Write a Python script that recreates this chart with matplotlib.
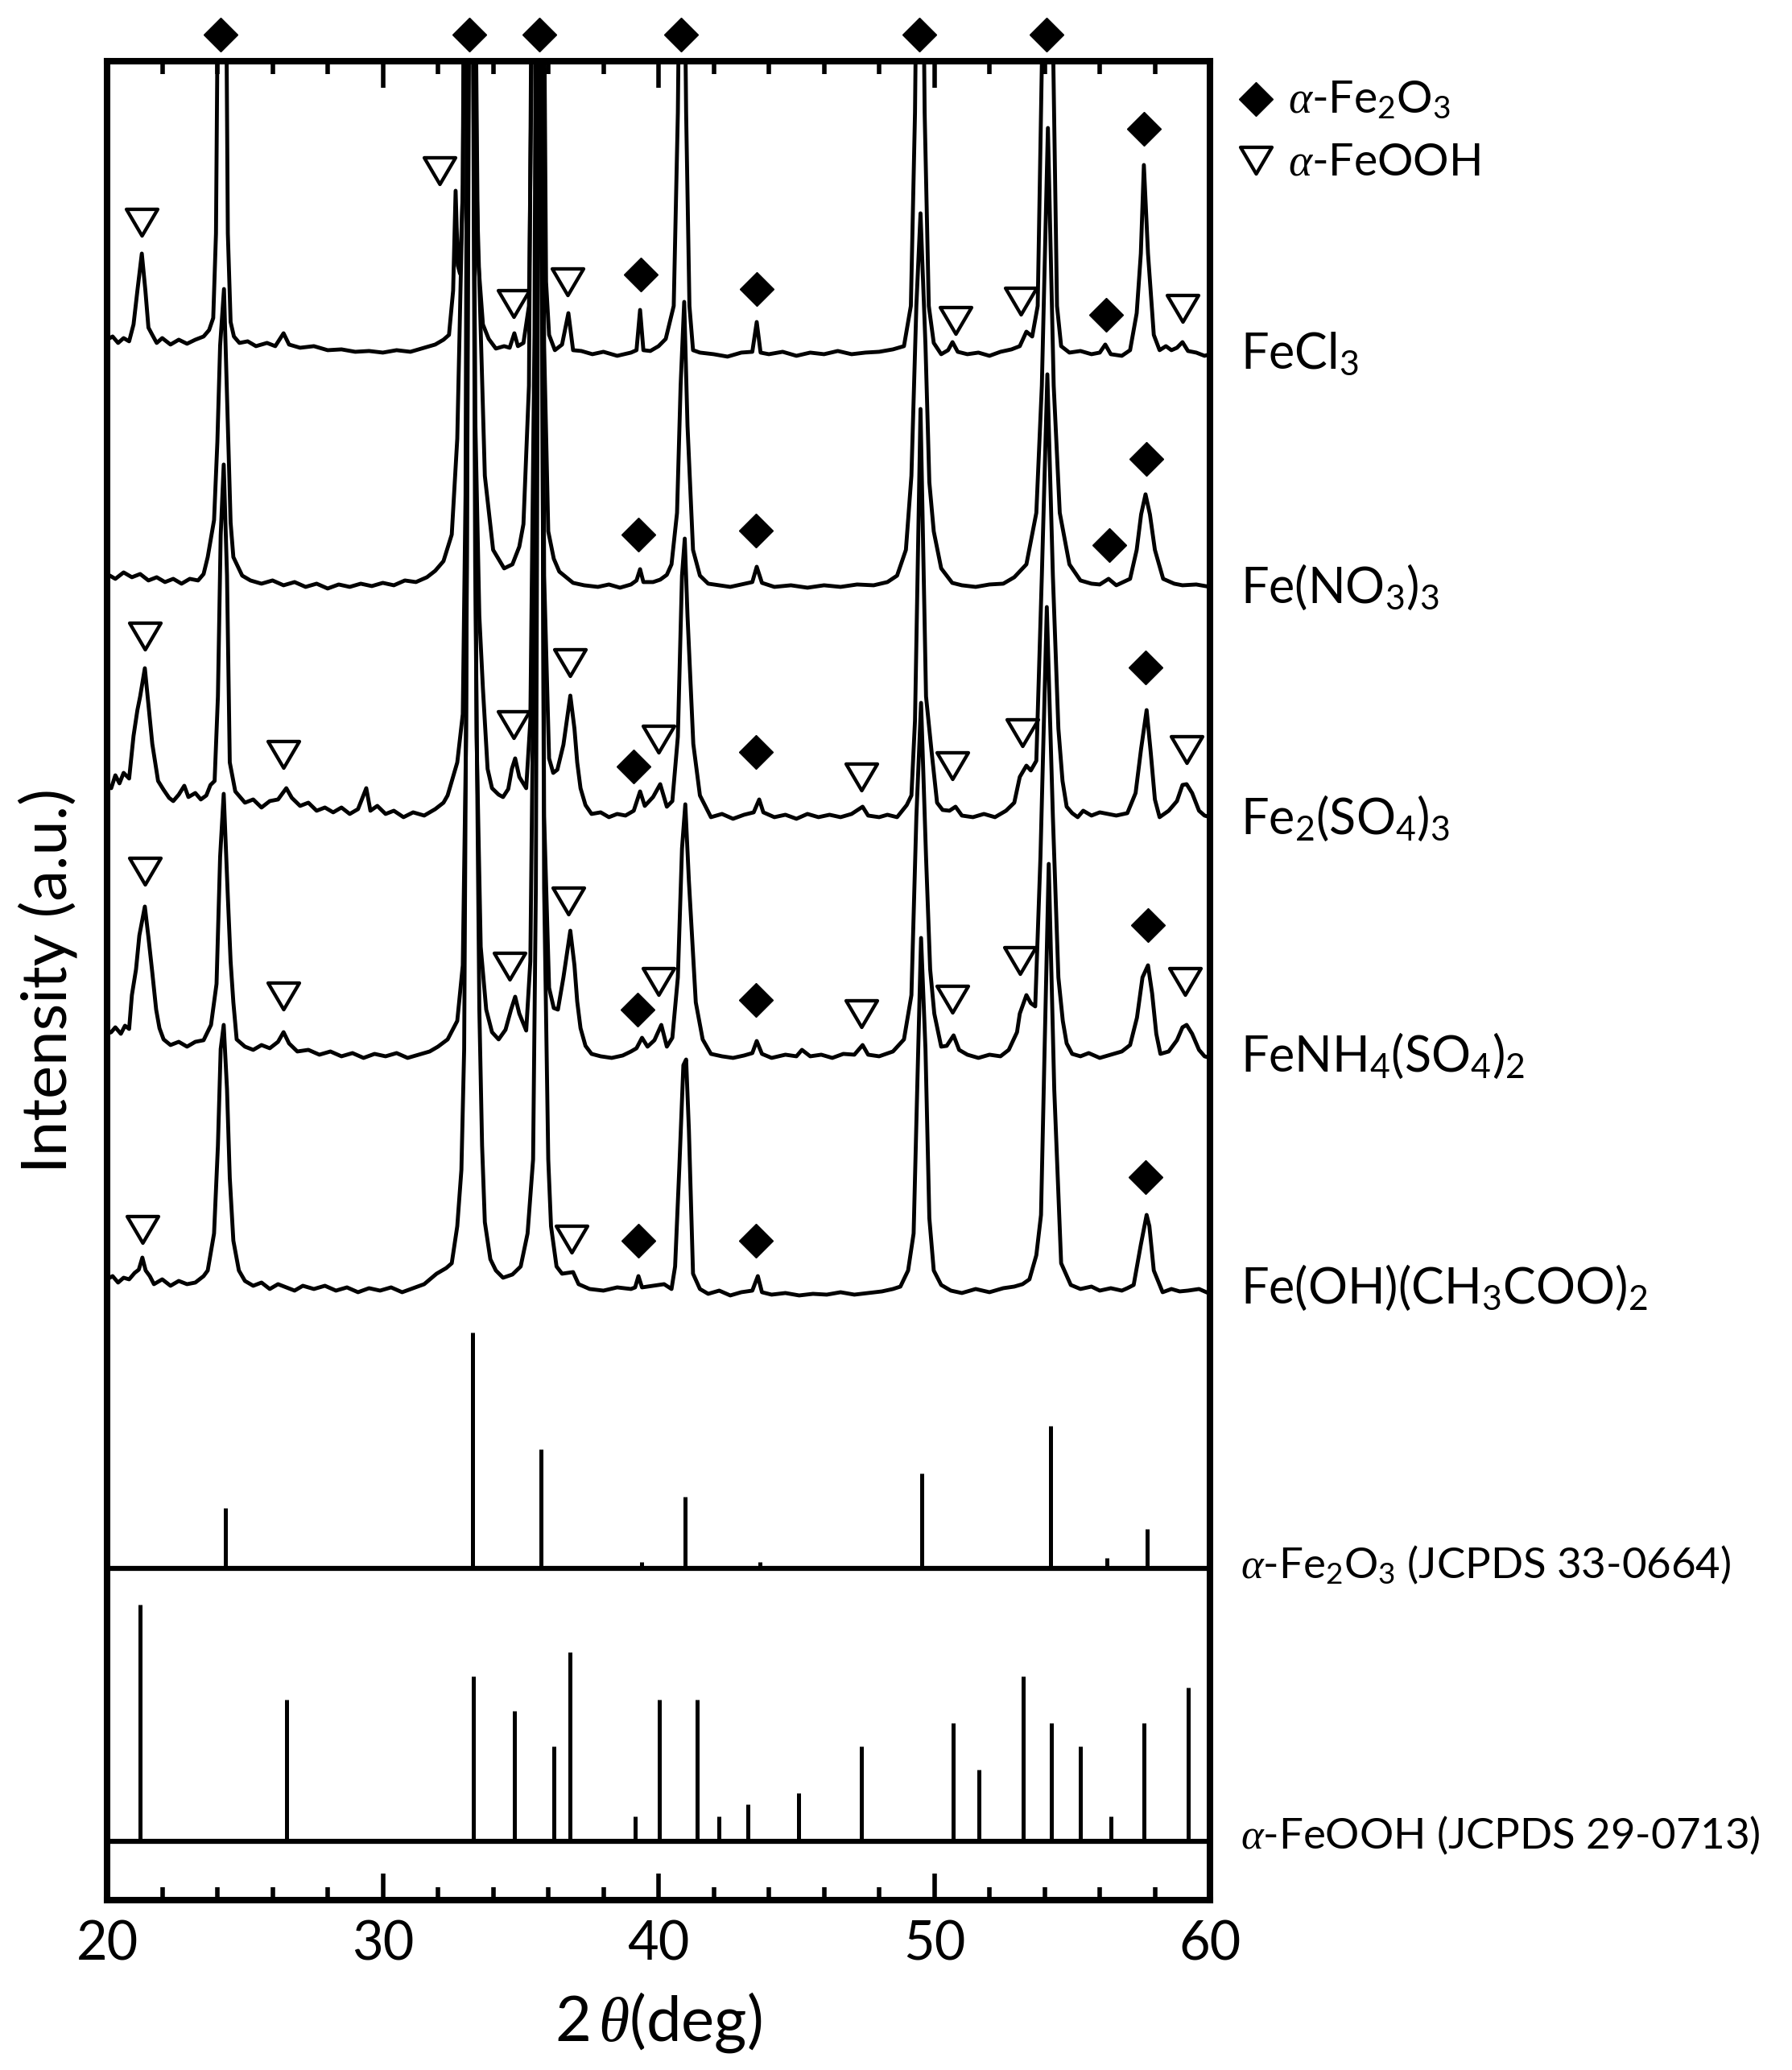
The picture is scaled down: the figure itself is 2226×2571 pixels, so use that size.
import matplotlib
matplotlib.use("Agg")
import matplotlib.pyplot as plt
from matplotlib.path import Path
from matplotlib.ticker import MultipleLocator

plt.rcParams.update({
	"font.family": ["Lato", "DejaVu Sans"],
	"mathtext.fontset": "custom",
	"mathtext.rm": "Lato",
	"mathtext.it": "Liberation Serif:italic",
	"mathtext.bf": "Lato:bold",
})

# ---- data (2theta in deg, intensity in a.u. above each pattern's own baseline) ----
samples = ["FeCl$_3$", "Fe(NO$_3$)$_3$", "Fe$_2$(SO$_4$)$_3$", "FeNH$_4$(SO$_4$)$_2$", "Fe(OH)(CH$_3$COO)$_2$"]
offsets = [1920, 1631, 1345, 1046, 757]
label_y = [1902, 1611, 1324, 1029, 741]

fecl3 = [(20.0, 18), (20.2, 22), (20.4, 14), (20.6, 20), (20.8, 16), (20.96, 37), (21.1, 79), (21.26, 125), (21.39, 79),
	(21.5, 33), (21.64, 24), (21.8, 14), (22.0, 20), (22.3, 12), (22.6, 18), (22.9, 13), (23.2, 18), (23.5, 22), (23.7, 30),
	(23.85, 45), (23.95, 150), (24.05, 600), (24.17, 900), (24.29, 600), (24.38, 150), (24.48, 40), (24.6, 22), (24.8, 14),
	(25.1, 16), (25.4, 10), (25.8, 14), (26.1, 10), (26.4, 26), (26.6, 12), (27.0, 8), (27.5, 10), (28.0, 5), (28.5, 6),
	(29.0, 3), (29.5, 4), (30.0, 2), (30.5, 5), (31.0, 3), (31.5, 8), (31.9, 12), (32.2, 18), (32.4, 24), (32.55, 79),
	(32.64, 203), (32.72, 110), (32.8, 100), (32.9, 200), (33.0, 700), (33.15, 2500), (33.3, 700), (33.45, 120), (33.63, 37),
	(33.84, 19), (34.1, 7), (34.4, 10), (34.6, 8), (34.77, 26), (34.9, 10), (35.1, 14), (35.3, 60), (35.5, 700), (35.65, 2500),
	(35.8, 700), (35.92, 90), (36.03, 24), (36.24, 5), (36.5, 12), (36.73, 51), (36.9, 5), (37.2, 4), (37.6, 0), (38.0, 3),
	(38.5, -2), (39.0, 2), (39.2, 5), (39.33, 55), (39.45, 5), (39.7, 4), (40.0, 10), (40.26, 19), (40.55, 60), (40.7, 300),
	(40.85, 800), (41.0, 300), (41.12, 60), (41.25, 5), (41.5, 2), (42.0, 0), (42.5, -3), (43.0, 2), (43.4, 3), (43.56, 40),
	(43.7, 2), (44.0, 0), (44.5, 3), (45.0, -2), (45.5, 2), (46.0, 0), (46.5, 4), (47.0, 0), (47.5, 2), (48.0, 3), (48.5, 6),
	(48.9, 10), (49.15, 60), (49.3, 300), (49.48, 900), (49.65, 300), (49.8, 60), (49.98, 14), (50.25, 0), (50.5, 5),
	(50.66, 15), (50.85, 3), (51.2, 0), (51.6, 2), (52.0, -2), (52.4, 3), (52.8, 6), (53.1, 10), (53.34, 28), (53.55, 22),
	(53.75, 60), (53.92, 400), (54.12, 1000), (54.3, 400), (54.45, 60), (54.6, 10), (54.9, 2), (55.3, 4), (55.7, 0), (56.0, 2),
	(56.2, 12), (56.4, 0), (56.8, -2), (57.1, 5), (57.34, 51), (57.49, 125), (57.6, 235), (57.75, 125), (57.96, 24),
	(58.17, 5), (58.4, 10), (58.6, 5), (58.8, 8), (59.0, 15), (59.2, 4), (59.5, 2), (59.8, -2), (60.0, 0)]

feno3 = [(20.0, 16), (20.3, 10), (20.6, 18), (20.9, 12), (21.2, 16), (21.5, 8), (21.8, 12), (22.1, 6), (22.4, 10), (22.7, 4),
	(23.0, 10), (23.3, 8), (23.5, 16), (23.65, 37), (23.88, 83), (24.0, 180), (24.1, 300), (24.24, 370), (24.38, 200),
	(24.48, 80), (24.58, 37), (24.9, 14), (25.2, 8), (25.6, 4), (26.0, 8), (26.4, 2), (26.8, 6), (27.2, 0), (27.6, 4),
	(28.0, -2), (28.4, 3), (28.8, 0), (29.2, 4), (29.6, 1), (30.0, 5), (30.4, 2), (30.8, 8), (31.2, 6), (31.6, 12), (31.9, 20),
	(32.2, 32), (32.5, 65), (32.7, 184), (32.9, 500), (33.15, 2200), (33.4, 500), (33.7, 138), (34.0, 46), (34.4, 23),
	(34.7, 28), (34.95, 50), (35.1, 78), (35.3, 250), (35.62, 2000), (35.85, 300), (36.0, 69), (36.2, 35), (36.4, 19),
	(36.9, 5), (37.3, 2), (37.8, 0), (38.2, 3), (38.6, -1), (39.0, 3), (39.2, 8), (39.33, 22), (39.45, 6), (39.8, 6),
	(40.06, 9), (40.3, 15), (40.47, 28), (40.67, 92), (40.8, 250), (40.93, 354), (41.05, 200), (41.25, 46), (41.5, 14),
	(41.8, 4), (42.2, 2), (42.6, 0), (43.0, 3), (43.4, 6), (43.56, 25), (43.75, 5), (44.2, 0), (44.8, 2), (45.4, -1),
	(46.0, 2), (46.6, 0), (47.2, 3), (47.8, 2), (48.3, 6), (48.65, 14), (48.97, 46), (49.17, 138), (49.35, 350), (49.5, 464),
	(49.68, 300), (49.82, 130), (49.98, 69), (50.25, 23), (50.65, 5), (51.0, 2), (51.5, 0), (52.0, 3), (52.5, 4), (52.9, 12),
	(53.34, 28), (53.7, 92), (53.9, 250), (54.12, 570), (54.33, 250), (54.55, 92), (54.9, 28), (55.3, 8), (55.7, 4),
	(56.0, 3), (56.32, 10), (56.6, 2), (57.1, 10), (57.34, 46), (57.5, 90), (57.66, 115), (57.82, 90), (58.0, 46), (58.3, 10),
	(58.7, 4), (59.0, 2), (59.5, 3), (60.0, 0)]

fe2so43 = [(20.0, 40), (20.15, 36), (20.3, 52), (20.45, 42), (20.6, 55), (20.8, 48), (20.96, 101), (21.1, 133), (21.2, 150),
	(21.37, 185), (21.5, 140), (21.64, 91), (21.85, 45), (22.05, 34), (22.25, 24), (22.4, 20), (22.6, 28), (22.8, 39),
	(22.95, 25), (23.2, 30), (23.4, 22), (23.6, 27), (23.75, 40), (23.9, 45), (24.02, 150), (24.12, 350), (24.23, 438),
	(24.35, 300), (24.45, 68), (24.65, 32), (25.0, 18), (25.3, 22), (25.6, 12), (25.9, 20), (26.2, 22), (26.5, 36), (26.7, 24),
	(27.0, 14), (27.3, 18), (27.6, 8), (27.9, 12), (28.2, 6), (28.5, 12), (28.8, 4), (29.1, 10), (29.4, 36), (29.55, 8),
	(29.8, 14), (30.1, 4), (30.4, 8), (30.75, 0), (31.1, 6), (31.5, 2), (31.9, 10), (32.2, 18), (32.35, 27), (32.7, 68),
	(32.9, 128), (33.0, 400), (33.15, 2000), (33.35, 500), (33.5, 250), (33.63, 160), (33.8, 60), (33.96, 36), (34.2, 28),
	(34.36, 25), (34.55, 35), (34.68, 60), (34.8, 73), (34.95, 50), (35.2, 36), (35.35, 120), (35.5, 600), (35.65, 2000),
	(35.85, 300), (36.03, 73), (36.18, 55), (36.33, 59), (36.55, 90), (36.8, 151), (36.95, 110), (37.05, 68), (37.17, 36),
	(37.35, 15), (37.57, 4), (37.9, 6), (38.2, 0), (38.5, 4), (38.8, 2), (39.1, 8), (39.33, 32), (39.5, 14), (39.8, 25),
	(40.06, 41), (40.3, 13), (40.5, 20), (40.7, 100), (40.85, 300), (40.95, 346), (41.05, 250), (41.26, 91), (41.5, 27),
	(41.9, 0), (42.3, 4), (42.7, -2), (43.1, 3), (43.45, 6), (43.65, 22), (43.8, 6), (44.2, 0), (44.6, 3), (45.0, -2),
	(45.4, 4), (45.8, 0), (46.2, 3), (46.6, 0), (47.0, 4), (47.4, 13), (47.6, 2), (48.0, 0), (48.3, 3), (48.65, 0), (49.0, 15),
	(49.17, 27), (49.3, 120), (49.5, 507), (49.7, 150), (49.9, 82), (50.1, 18), (50.3, 9), (50.55, 8), (50.77, 13), (51.0, 2),
	(51.4, 0), (51.8, 4), (52.2, 0), (52.6, 8), (52.9, 18), (53.1, 50), (53.34, 64), (53.5, 58), (53.7, 70), (53.9, 300),
	(54.1, 550), (54.3, 300), (54.5, 110), (54.65, 45), (54.8, 13), (55.0, 5), (55.2, 0), (55.4, 8), (55.7, 2), (56.0, 6),
	(56.3, 4), (56.6, 2), (57.0, 5), (57.3, 30), (57.5, 85), (57.7, 133), (57.85, 80), (58.0, 22), (58.17, 0), (58.5, 8),
	(58.8, 20), (59.0, 40), (59.15, 41), (59.35, 30), (59.6, 8), (59.8, 2), (60.0, 0)]

fenh4 = [(20.0, 30), (20.15, 32), (20.3, 38), (20.5, 30), (20.65, 40), (20.8, 36), (20.9, 78), (21.05, 110), (21.17, 152),
	(21.37, 188), (21.5, 150), (21.64, 106), (21.78, 60), (21.9, 37), (22.05, 23), (22.3, 16), (22.6, 20), (22.9, 14),
	(23.2, 20), (23.5, 22), (23.77, 41), (23.97, 92), (24.1, 250), (24.23, 328), (24.38, 200), (24.48, 120), (24.58, 69),
	(24.7, 23), (25.0, 14), (25.3, 10), (25.6, 16), (25.9, 12), (26.2, 20), (26.4, 32), (26.6, 18), (26.9, 8), (27.3, 10),
	(27.7, 4), (28.1, 8), (28.5, 2), (28.9, 6), (29.3, 0), (29.7, 5), (30.1, 2), (30.5, 6), (30.9, 0), (31.3, 4), (31.7, 8),
	(32.0, 14), (32.35, 23), (32.7, 46), (32.9, 115), (33.02, 400), (33.18, 2000), (33.4, 400), (33.55, 138), (33.75, 60),
	(33.96, 32), (34.2, 23), (34.45, 35), (34.65, 60), (34.8, 76), (34.95, 55), (35.2, 34), (35.35, 120), (35.5, 600),
	(35.65, 2000), (35.85, 300), (36.03, 87), (36.2, 62), (36.35, 60), (36.55, 100), (36.8, 158), (36.95, 115), (37.05, 70),
	(37.17, 37), (37.35, 15), (37.57, 5), (37.9, 2), (38.3, 0), (38.7, 3), (39.0, 8), (39.2, 12), (39.4, 25), (39.6, 14),
	(39.85, 22), (40.1, 41), (40.3, 14), (40.5, 25), (40.7, 100), (40.85, 260), (40.97, 315), (41.1, 220), (41.35, 69),
	(41.6, 23), (41.9, 5), (42.3, 2), (42.7, 0), (43.1, 3), (43.4, 6), (43.56, 21), (43.75, 5), (44.1, 0), (44.6, 4),
	(45.0, 2), (45.2, 10), (45.5, 2), (45.9, 4), (46.3, 0), (46.7, 5), (47.1, 4), (47.4, 16), (47.6, 4), (48.0, 2), (48.5, 8),
	(48.9, 23), (49.17, 78), (49.35, 300), (49.52, 441), (49.7, 250), (49.85, 110), (50.0, 55), (50.25, 14), (50.45, 15),
	(50.7, 28), (50.9, 10), (51.2, 4), (51.6, 0), (52.0, 4), (52.4, 2), (52.7, 10), (53.0, 32), (53.1, 55), (53.34, 78),
	(53.5, 68), (53.66, 64), (53.85, 250), (54.08, 560), (54.3, 300), (54.5, 100), (54.66, 46), (54.8, 18), (55.0, 5),
	(55.3, 2), (55.6, 6), (56.0, 0), (56.4, 4), (56.8, 8), (57.1, 16), (57.35, 50), (57.55, 100), (57.75, 115), (57.9, 80),
	(58.05, 30), (58.2, 5), (58.5, 8), (58.8, 22), (59.0, 38), (59.15, 41), (59.35, 30), (59.6, 10), (59.8, 2), (60.0, 0)]

feoh = [(20.0, 14), (20.2, 18), (20.4, 10), (20.6, 16), (20.8, 14), (21.0, 22), (21.15, 26), (21.28, 41), (21.4, 25),
	(21.55, 18), (21.7, 8), (22.0, 14), (22.3, 6), (22.6, 12), (22.9, 8), (23.2, 10), (23.5, 18), (23.65, 25), (23.88, 71),
	(24.02, 180), (24.12, 300), (24.23, 330), (24.35, 250), (24.45, 140), (24.58, 62), (24.78, 25), (25.0, 12), (25.3, 6),
	(25.6, 10), (25.9, 2), (26.2, 8), (26.5, 4), (26.8, 0), (27.1, 6), (27.5, 2), (27.9, 6), (28.3, 0), (28.7, 4), (29.1, -2),
	(29.5, 3), (29.9, 0), (30.3, 4), (30.7, -2), (31.1, 3), (31.5, 8), (31.95, 21), (32.3, 28), (32.5, 34), (32.7, 80),
	(32.85, 150), (32.95, 300), (33.05, 900), (33.2, 2200), (33.35, 900), (33.5, 350), (33.6, 180), (33.7, 85), (33.9, 39),
	(34.1, 25), (34.36, 16), (34.7, 20), (35.0, 30), (35.25, 71), (35.45, 163), (35.55, 500), (35.7, 2000), (35.85, 500),
	(36.0, 163), (36.1, 80), (36.3, 30), (36.5, 21), (36.9, 23), (37.1, 8), (37.5, 2), (38.0, 0), (38.5, 4), (39.0, 2),
	(39.15, 4), (39.27, 18), (39.4, 4), (39.8, 6), (40.2, 8), (40.47, 2), (40.6, 30), (40.75, 150), (40.9, 280), (41.0, 287),
	(41.1, 200), (41.25, 21), (41.5, 2), (41.8, -4), (42.2, 0), (42.6, -6), (43.0, -2), (43.4, 0), (43.6, 18), (43.75, -2),
	(44.1, -5), (44.6, -3), (45.1, -6), (45.6, -4), (46.1, -5), (46.6, -2), (47.1, -5), (47.6, -3), (48.1, -1), (48.5, 2),
	(48.77, 5), (49.05, 25), (49.25, 71), (49.38, 250), (49.52, 438), (49.68, 300), (49.82, 90), (49.98, 25), (50.25, 7),
	(50.6, 0), (51.0, -3), (51.5, 2), (52.0, -2), (52.5, 3), (52.9, 5), (53.2, 8), (53.45, 14), (53.7, 44), (53.87, 94),
	(54.0, 300), (54.15, 530), (54.35, 250), (54.6, 34), (54.95, 7), (55.3, 2), (55.7, 5), (56.0, 0), (56.4, 3), (56.8, 0),
	(57.0, 3), (57.23, 7), (57.49, 57), (57.7, 94), (57.8, 80), (57.96, 25), (58.28, -2), (58.6, 2), (58.9, -1), (59.2, 0),
	(59.6, 2), (60.0, -4)]

patterns = [fecl3, feno3, fe2so43, fenh4, feoh]

# phase markers: (2theta, height in a.u.)
hem_marks = [
	[(39.36, 2019), (43.56, 2001), (56.23, 1969), (57.6, 2200)],
	[(39.27, 1696), (43.53, 1701), (56.35, 1683), (57.69, 1790)],
	[(39.09, 1408), (43.53, 1426), (57.66, 1531)],
	[(39.24, 1106), (43.53, 1118), (57.75, 1211)],
	[(39.27, 819), (43.53, 819), (57.66, 898)],
]
goe_marks = [
	[(21.26, 2084), (32.06, 2148), (34.74, 1983), (36.71, 2010), (50.77, 1962), (53.14, 1986), (59.0, 1977)],
	[],
	[(21.37, 1570), (26.39, 1423), (34.74, 1460), (36.79, 1537), (39.99, 1442), (47.36, 1395), (50.66, 1409), (53.2, 1450), (59.16, 1429)],
	[(21.37, 1278), (26.39, 1123), (34.6, 1160), (36.73, 1241), (40.0, 1141), (47.36, 1101), (50.66, 1119), (53.11, 1167), (59.1, 1141)],
	[(21.28, 833), (36.85, 821)],
]
top_hem = [24.12, 33.14, 35.68, 40.82, 49.46, 54.07]

# reference patterns
hem_ref_pos = [24.29, 33.25, 35.74, 39.39, 40.96, 43.68, 49.55, 54.22, 56.26, 57.72]
hem_ref_int = [75, 293, 148, 8, 89, 8, 118, 177, 13, 49]
goe_ref_pos = [21.21, 26.5, 33.28, 34.77, 36.19, 36.8, 39.15, 40.02, 41.39, 42.2, 43.23, 45.08, 47.36, 50.69, 51.61,
	53.23, 54.24, 55.3, 56.41, 57.59, 59.2]
goe_ref_int = [294, 176, 205, 162, 118, 235, 31, 176, 176, 31, 46, 60, 118, 147, 89, 205, 147, 118, 31, 147, 191]
hem_ref_base = 412
goe_ref_base = 73
ref_labels = ["$\\alpha$-Fe$_2$O$_3$ (JCPDS 33-0664)", "$\\alpha$-FeOOH (JCPDS 29-0713)"]
ref_label_y = [400, 64]

# ---- figure ----
fig = plt.figure(figsize=(22.26, 25.71), dpi=100)
ax = fig.add_axes([0.05975, 0.08207, 0.6155, 0.8884])
ax.set_xlim(20, 60)
ax.set_ylim(0, 2284)

tri = Path([(-1, 0.85), (1, 0.85), (0, -0.85), (-1, 0.85)], closed=True)
lw_trace = 3.5
tri_ms = 28
tri_mew = 3.1

for pat, off in zip(patterns, offsets):
	xs = [p[0] for p in pat]
	ys = [p[1] + off for p in pat]
	ax.plot(xs, ys, color="black", lw=lw_trace, solid_joinstyle="round", zorder=3)

for hm, gm in zip(hem_marks, goe_marks):
	if hm:
		ax.plot([m[0] for m in hm], [m[1] for m in hm], ls="none", marker="D", ms=21, color="black", zorder=4)
	if gm:
		ax.plot([m[0] for m in gm], [m[1] for m in gm], ls="none", marker=tri, ms=tri_ms, mfc="white", mec="black",
				mew=tri_mew, zorder=4)

ax.plot(top_hem, [2317] * len(top_hem), ls="none", marker="D", ms=21, color="black", clip_on=False, zorder=5)

# reference sticks
ax.vlines(hem_ref_pos, hem_ref_base, [hem_ref_base + h for h in hem_ref_int], color="black", lw=3.6)
ax.vlines(goe_ref_pos, goe_ref_base, [goe_ref_base + h for h in goe_ref_int], color="black", lw=3.6)
ax.axhline(hem_ref_base, color="black", lw=4.5)
ax.axhline(goe_ref_base, color="black", lw=4.5)

# labels on the right
for lab, ly in zip(samples, label_y):
	ax.text(61.11, ly, lab, fontsize=44, ha="left", va="baseline", clip_on=False)
for lab, ly in zip(ref_labels, ref_label_y):
	ax.text(61.11, ly, lab, fontsize=38, ha="left", va="baseline", clip_on=False)

# legend
ax.plot([61.66], [2237], ls="none", marker="D", ms=21, color="black", clip_on=False)
ax.plot([61.66], [2161], ls="none", marker=tri, ms=tri_ms, mfc="white", mec="black", mew=tri_mew, clip_on=False)
ax.text(62.83, 2220, "$\\alpha$-Fe$_2$O$_3$", fontsize=40, ha="left", va="baseline")
ax.text(62.83, 2142, "$\\alpha$-FeOOH", fontsize=40, ha="left", va="baseline")

# axes
ax.set_xlabel("2$\\,\\theta$(deg)", fontsize=56, labelpad=18)
ax.set_ylabel("Intensity (a.u.)", fontsize=56, labelpad=26)
ax.xaxis.set_major_locator(MultipleLocator(10))
ax.xaxis.set_minor_locator(MultipleLocator(2))
ax.tick_params(axis="x", which="major", direction="in", length=23.8, width=4, top=True, bottom=True,
			   labelsize=48, pad=18)
ax.tick_params(axis="x", which="minor", direction="in", length=11.5, width=4, top=True, bottom=True)
ax.tick_params(axis="y", left=False, right=False, labelleft=False)
for s in ax.spines.values():
	s.set_linewidth(5.8)

plt.savefig("out.png", dpi=100)
